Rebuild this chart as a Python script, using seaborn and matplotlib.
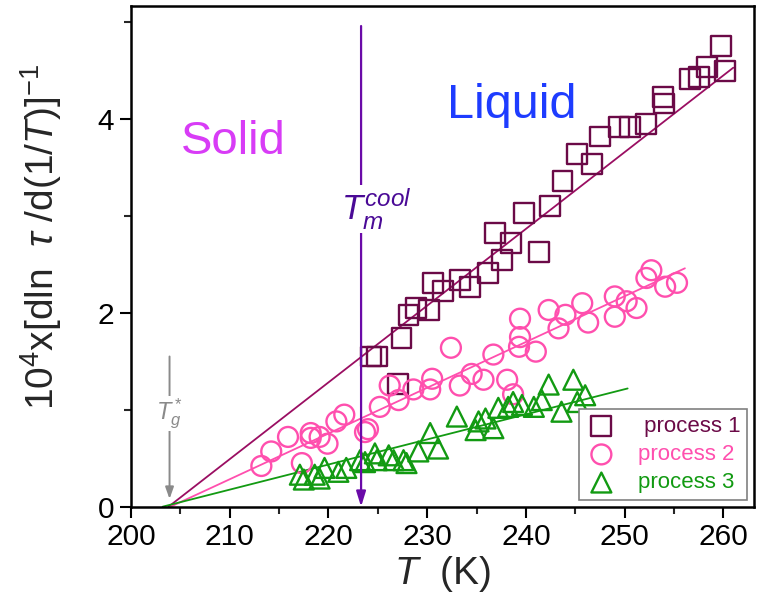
import numpy as np
import pandas as pd
import matplotlib
matplotlib.use("Agg")
import matplotlib.pyplot as plt
import seaborn as sns

# ---------------- data ----------------
p1_T = [224.3, 224.9, 227.0, 227.4, 228.1, 228.9, 230.2, 230.6, 231.6, 233.3, 234.3,
        236.2, 236.9, 237.6, 238.5, 239.8, 241.3, 242.4, 243.7, 245.2, 246.7, 247.5,
        249.4, 250.5, 252.2, 253.9, 254.0, 256.6, 257.5, 258.3, 259.75, 260.2]
p1_y = [1.55, 1.55, 1.27, 1.74, 1.98, 2.05, 2.03, 2.31, 2.23, 2.34, 2.27,
        2.41, 2.82, 2.55, 2.72, 3.03, 2.63, 3.10, 3.36, 3.64, 3.54, 3.82,
        3.92, 3.92, 3.95, 4.23, 4.16, 4.41, 4.43, 4.54, 4.75, 4.50]

p2_T = [213.2, 214.2, 215.9, 217.3, 218.2, 218.2, 219.1, 219.9, 220.8, 221.6, 223.7,
        224.0, 225.2, 226.2, 227.1, 228.6, 230.3, 230.5, 232.4, 233.3, 234.5, 235.7,
        236.7, 238.1, 238.7, 239.3, 239.4, 239.4, 241.0, 242.3, 243.3, 244.0, 245.7,
        246.3, 249.0, 249.0, 250.2, 251.2, 252.2, 252.7, 254.1, 255.3]
p2_y = [0.42, 0.57, 0.72, 0.45, 0.76, 0.71, 0.72, 0.65, 0.88, 0.95, 0.77,
        0.80, 1.03, 1.25, 1.10, 1.21, 1.21, 1.32, 1.64, 1.25, 1.37, 1.31,
        1.57, 1.31, 1.16, 1.65, 1.75, 1.94, 1.60, 2.03, 1.84, 1.98, 2.10,
        1.90, 2.17, 1.96, 2.12, 2.05, 2.36, 2.44, 2.27, 2.31]

p3_T = [217.1, 217.5, 218.6, 219.1, 219.6, 221.0, 221.8, 223.2, 223.7, 224.7, 224.9,
        226.1, 226.6, 227.6, 227.9, 229.1, 230.3, 231.1, 233.0, 234.9, 235.2, 235.9,
        236.7, 237.2, 238.2, 238.7, 239.6, 240.8, 241.6, 242.3, 243.6, 244.8, 245.2, 246.0]
p3_y = [0.33, 0.28, 0.33, 0.29, 0.40, 0.36, 0.40, 0.48, 0.46, 0.55, 0.48,
        0.53, 0.48, 0.48, 0.45, 0.57, 0.76, 0.60, 0.93, 0.79, 0.88, 0.91,
        0.81, 1.02, 1.03, 1.08, 1.05, 1.03, 1.10, 1.26, 0.98, 1.31, 1.08, 1.15]

# linear fits (start, end)
fit1_T = [203.8, 261.0]
fit1_y = [0.0, 4.53]
fit2_T = [204.0, 256.1]
fit2_y = [0.0, 2.46]
fit3_T = [203.2, 250.3]
fit3_y = [0.0, 1.22]

Tm_cool = 223.3
Tm_top = 4.96
Tg_star = 203.9
Tg_top = 1.55

labels = [" process 1", "process 2", "process 3"]
colors_marker = ["#6B0A47", "#FF4FAE", "#129A12"]
colors_line = ["#9A0E62", "#FF4FAE", "#129A12"]
markers = ["s", "o", "^"]

# ---------------- style ----------------
sns.set_style("ticks")
plt.rcParams["font.family"] = ["Liberation Sans", "DejaVu Sans"]
plt.rcParams["mathtext.fontset"] = "custom"
plt.rcParams["mathtext.rm"] = "Liberation Sans"
plt.rcParams["mathtext.it"] = "Liberation Sans:italic"
plt.rcParams["mathtext.bf"] = "Liberation Sans:bold"

fig = plt.figure(figsize=(7.69, 6.04), dpi=100)
ax = fig.add_axes([0.1704, 0.1611, 0.9805 - 0.1704, 0.9906 - 0.1611])

series = [(p1_T, p1_y, fit1_T, fit1_y), (p2_T, p2_y, fit2_T, fit2_y), (p3_T, p3_y, fit3_T, fit3_y)]
for i, (tx, ty, fx, fy) in enumerate(series):
    sns.lineplot(x=fx, y=fy, color=colors_line[i], lw=1.3, ax=ax, legend=False, zorder=2)
for i, (tx, ty, fx, fy) in enumerate(series):
    df = pd.DataFrame({"T": tx, "y": ty})
    sns.scatterplot(data=df, x="T", y="y", marker=markers[i], s=205,
                    facecolor="none", edgecolor=colors_marker[i], linewidth=1.7,
                    ax=ax, label=labels[i], zorder=3)

# T_m arrow
ax.annotate("", xy=(Tm_cool, 0.0), xytext=(Tm_cool, Tm_top),
            arrowprops=dict(arrowstyle="-|>,head_length=0.9,head_width=0.28",
                            color="#6A0AA8", lw=1.6, shrinkA=0, shrinkB=0), zorder=4)
ax.text(221.3, 2.96, r"$T_m^{cool}$", fontsize=25, color="#4A0A96",
        ha="left", va="baseline", zorder=5,
        bbox=dict(facecolor="white", edgecolor="none", pad=1.0))

# T_g arrow
ax.annotate("", xy=(Tg_star, 0.08), xytext=(Tg_star, Tg_top),
            arrowprops=dict(arrowstyle="-|>,head_length=0.7,head_width=0.25",
                            color="#8A8A8A", lw=1.4, shrinkA=0, shrinkB=0), zorder=4)
ax.text(Tg_star, 0.96, r"$T_g^*$", fontsize=17, color="#8A8A8A",
        ha="center", va="center", zorder=5,
        bbox=dict(facecolor="white", edgecolor="none", pad=0.5))

# phase labels
ax.text(210.4, 3.64, "Solid", fontsize=34, color="#D83CF6", ha="center", va="baseline")
ax.text(238.6, 4.01, "Liquid", fontsize=35, color="#1E3CFF", ha="center", va="baseline")

# axes
ax.set_xlim(200, 263.1)
ax.set_ylim(0, 5.17)
ax.set_xticks(np.arange(200, 261, 10))
ax.set_xticks(np.arange(205, 261, 10), minor=True)
ax.set_yticks([0, 2, 4])
ax.set_yticks([1, 3, 5], minor=True)
ax.tick_params(axis="both", which="major", direction="out", length=8, width=1.5,
               labelsize=21.5, colors="black", pad=4)
ax.tick_params(axis="both", which="minor", direction="out", length=5, width=1.5)
ax.tick_params(top=False, right=False, which="both")
for sp in ax.spines.values():
    sp.set_visible(True)
    sp.set_linewidth(1.8)
    sp.set_color("black")

ax.set_xlabel(r"$T$  (K)", fontsize=28, labelpad=2)
ax.set_ylabel(r"10$^4$x[dln  $\tau$ /d(1/$T$)]$^{-1}$", fontsize=28)
ax.yaxis.set_label_coords(-0.108, 0.538)

leg = ax.legend(loc="lower right", fontsize=16, frameon=True, fancybox=False,
                edgecolor="#808080", framealpha=1, borderpad=0.3,
                labelspacing=0.32, handletextpad=0.95, borderaxespad=0.3,
                handlelength=1.4)
leg.get_frame().set_linewidth(1.2)
for txt, c in zip(leg.get_texts(), colors_marker):
    txt.set_color(c)

fig.savefig("out.png", dpi=100)
